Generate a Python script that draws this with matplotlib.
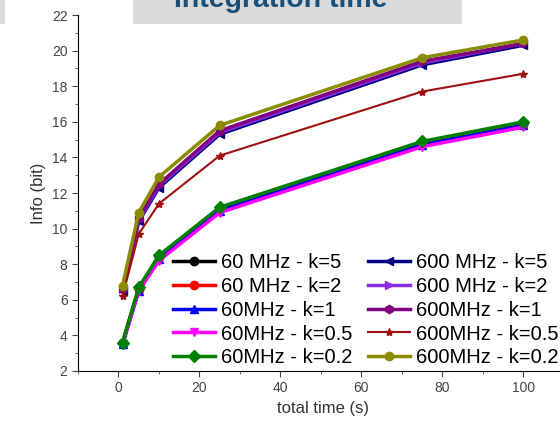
import numpy as np
import matplotlib
matplotlib.use('Agg')
import matplotlib.pyplot as plt
from matplotlib.ticker import MultipleLocator

plt.rcParams['font.family'] = ['Liberation Sans', 'DejaVu Sans']

t = [1, 5, 10, 25, 75, 100]
labels = ['60 MHz - k=5', '60 MHz - k=2', '60MHz - k=1', '60MHz - k=0.5', '60MHz - k=0.2',
          '600 MHz - k=5', '600 MHz - k=2', '600MHz - k=1', '600MHz - k=0.5', '600MHz - k=0.2']
info_60_k5 = [3.6, 6.6, 8.4, 11.1, 14.8, 15.9]
info_60_k2 = [3.6, 6.6, 8.4, 11.1, 14.8, 15.9]
info_60_k1 = [3.5, 6.5, 8.3, 11.0, 14.7, 15.8]
info_60_k05 = [3.5, 6.5, 8.2, 10.9, 14.6, 15.7]
info_60_k02 = [3.6, 6.7, 8.5, 11.2, 14.9, 16.0]
info_600_k5 = [6.5, 10.4, 12.3, 15.3, 19.2, 20.3]
info_600_k2 = [6.6, 10.5, 12.4, 15.4, 19.3, 20.4]
info_600_k1 = [6.6, 10.6, 12.5, 15.5, 19.4, 20.4]
info_600_k05 = [6.2, 9.7, 11.4, 14.1, 17.7, 18.7]
info_600_k02 = [6.8, 10.9, 12.9, 15.8, 19.6, 20.6]

series = [info_60_k5, info_60_k2, info_60_k1, info_60_k05, info_60_k02,
          info_600_k5, info_600_k2, info_600_k1, info_600_k05, info_600_k02]
colors = ['black', 'red', 'blue', 'magenta', 'green',
          'navy', '#8a2be2', 'purple', '#a01010', '#8c8c00']
markers = ['o', 'o', '^', 'v', 'D', '<', '>', 'h', '*', 'o']
lws = [2.5, 2.5, 2.5, 2.5, 2.5, 2.5, 2.5, 2.5, 1.5, 2.5]

fig = plt.figure(figsize=(5.6, 4.33), dpi=100)
ax = fig.add_axes([78/560, 62/433, 490/560, 356/433])

for y, c, m, lw, lab in zip(series, colors, markers, lws, labels):
    ax.plot(t, y, color=c, marker=m, lw=lw, ms=6, label=lab)

ax.set_xlim(-10, 111)
ax.set_ylim(2, 22)
ax.xaxis.set_major_locator(MultipleLocator(20))
ax.xaxis.set_minor_locator(MultipleLocator(10))
ax.yaxis.set_major_locator(MultipleLocator(2))
ax.yaxis.set_minor_locator(MultipleLocator(1))
ax.spines['top'].set_visible(False)
ax.spines['right'].set_visible(False)
ax.tick_params(which='both', direction='out', labelsize=10, colors='#444444')
ax.tick_params(which='major', length=4)
ax.tick_params(which='minor', length=2.5)
ax.set_xlabel('total time (s)', fontsize=12, color='#333333')
ax.set_ylabel('Info (bit)', fontsize=12, color='#333333')

ax.legend(loc='upper left', ncol=2, frameon=False, fontsize=14.5,
          handlelength=2.1, columnspacing=0.75, handletextpad=0.3,
          labelspacing=0.24, borderpad=0, borderaxespad=0,
          bbox_to_anchor=((173 - 78) / 490, (371 - 253) / 356))

fig.patches.append(plt.Rectangle((133/560, 409/433), 329/560, 24/433, transform=fig.transFigure,
                                 fc='#d9d9d9', ec='none'))
fig.patches.append(plt.Rectangle((0, 409/433), 5/560, 24/433, transform=fig.transFigure,
                                 fc='#d9d9d9', ec='none'))
fig.text(281/560, 1 - 7/433, 'Integration time', ha='center', va='baseline',
         fontsize=20.5, color='#1a4f7a', fontweight='semibold')

fig.savefig('out.png', dpi=100)
